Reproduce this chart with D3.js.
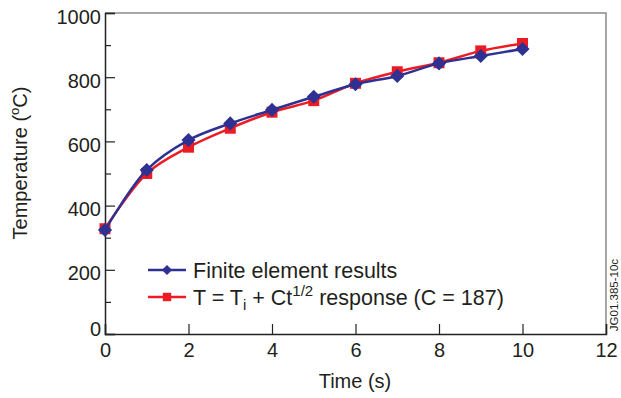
<!DOCTYPE html>
<html><head><meta charset="utf-8">
<script src="https://cdn.jsdelivr.net/npm/d3@7"></script>
<style>body{margin:0;background:#fff}svg{display:block;font-family:"Liberation Sans",Arial,sans-serif}</style>
</head><body>
<script>
const times = [0,1,2,3,4,5,6,7,8,9,10];
const finiteElement = [324,511,604,656,698,739,778,804,843,866,888];
const sqrtResponse = [328,500,582,641,691,727,781,817,845,882,905];
const xTicks = [0,2,4,6,8,10,12];
const yTicks = [0,200,400,600,800,1000];
const yMinorTicks = [100,300,500,700,900];
const seriesNames = ["Finite element results","T = Ti + Ct1/2 response (C = 187)"];

const W=621,H=398;
const svg=d3.select("body").append("svg").attr("width",W).attr("height",H);
const x=d3.scaleLinear().domain([0,12]).range([105,606]);
const y=d3.scaleLinear().domain([0,1000]).range([334,13]);
const blue="#2e3192", red="#ed1c24";

// frame top/right
svg.append("path").attr("d",`M${x(0)},${y(1000)}H${x(12)}V${y(0)}`).attr("fill","none").attr("stroke","#8a8a8a").attr("stroke-width",1.5);

// axes
const xa=svg.append("g").attr("transform",`translate(0,${y(0)})`)
  .call(d3.axisBottom(x).tickValues(xTicks).tickSize(-10).tickPadding(9).tickFormat(d3.format("d")));
const ya=svg.append("g").attr("transform",`translate(${x(0)},0)`)
  .call(d3.axisLeft(y).tickValues(yTicks).tickSize(-10).tickPadding(4).tickFormat(d3.format("d")));
svg.append("g").attr("transform",`translate(${x(0)},0)`)
  .call(d3.axisLeft(y).tickValues(yMinorTicks).tickSize(-6).tickFormat(""))
  .call(g=>g.select(".domain").remove());
svg.selectAll(".domain").attr("stroke","#222").attr("stroke-width",1.5);
svg.selectAll(".tick line").attr("stroke","#222").attr("stroke-width",1.2);
svg.selectAll(".tick text").attr("font-size",20).attr("fill","#231f20").attr("font-family","Liberation Sans, Arial, sans-serif");
ya.selectAll(".tick text").attr("dy",d=>d===0?"0.05em":"0.5em");

// axis titles
svg.append("text").attr("x",355).attr("y",388).attr("text-anchor","middle").attr("font-size",20).attr("fill","#231f20").text("Time (s)");
const yt=svg.append("text").attr("transform","translate(27,163) rotate(-90)").attr("text-anchor","middle").attr("font-size",20).attr("fill","#231f20");
yt.append("tspan").text("Temperature (");
yt.append("tspan").attr("font-size",13).attr("dy",-8).text("o");
yt.append("tspan").attr("dy",8).text("C)");

// side label
svg.append("text").attr("transform","translate(618,295) rotate(-90)").attr("text-anchor","middle").attr("font-size",11.5).attr("fill","#231f20").text("JG01.385-10c");

const line=d3.line().x((d,i)=>x(times[i])).y(d=>y(d)).curve(d3.curveCatmullRom.alpha(0.5));

function drawSeries(vals,color,shape){
  svg.append("path").datum(vals).attr("d",line).attr("fill","none").attr("stroke",color).attr("stroke-width",2.5);
  svg.selectAll(null).data(vals).enter().append("path")
    .attr("transform",(d,i)=>`translate(${x(times[i])},${y(d)})${shape==="d"?" rotate(45)":""}`)
    .attr("d",shape==="d"?"M-5,-5H5V5H-5Z":"M-5.5,-5.5H5.5V5.5H-5.5Z")
    .attr("fill",color);
}
drawSeries(sqrtResponse,red,"s");
drawSeries(finiteElement,blue,"d");

// legend
function legendItem(yy,color,shape){
  svg.append("line").attr("x1",148).attr("x2",186).attr("y1",yy).attr("y2",yy).attr("stroke",color).attr("stroke-width",2.5);
  svg.append("path").attr("transform",`translate(167,${yy})${shape==="d"?" rotate(45)":""}`)
    .attr("d",shape==="d"?"M-3.6,-3.6H3.6V3.6H-3.6Z":"M-4.2,-4.2H4.2V4.2H-4.2Z").attr("fill",color);
}
legendItem(270,blue,"d");
legendItem(297,red,"s");
svg.append("text").attr("x",193).attr("y",278).attr("font-size",21.5).attr("fill","#231f20").text(seriesNames[0]);
const t2=svg.append("text").attr("x",193).attr("y",305).attr("font-size",21.5).attr("fill","#231f20");
t2.append("tspan").text("T = T");
t2.append("tspan").attr("font-size",15).attr("dy",5).text("i");
t2.append("tspan").attr("dy",-5).text(" + Ct");
t2.append("tspan").attr("font-size",15).attr("dy",-9).text("1/2");
t2.append("tspan").attr("dy",9).text(" response (C = 187)");
</script>
</body></html>
